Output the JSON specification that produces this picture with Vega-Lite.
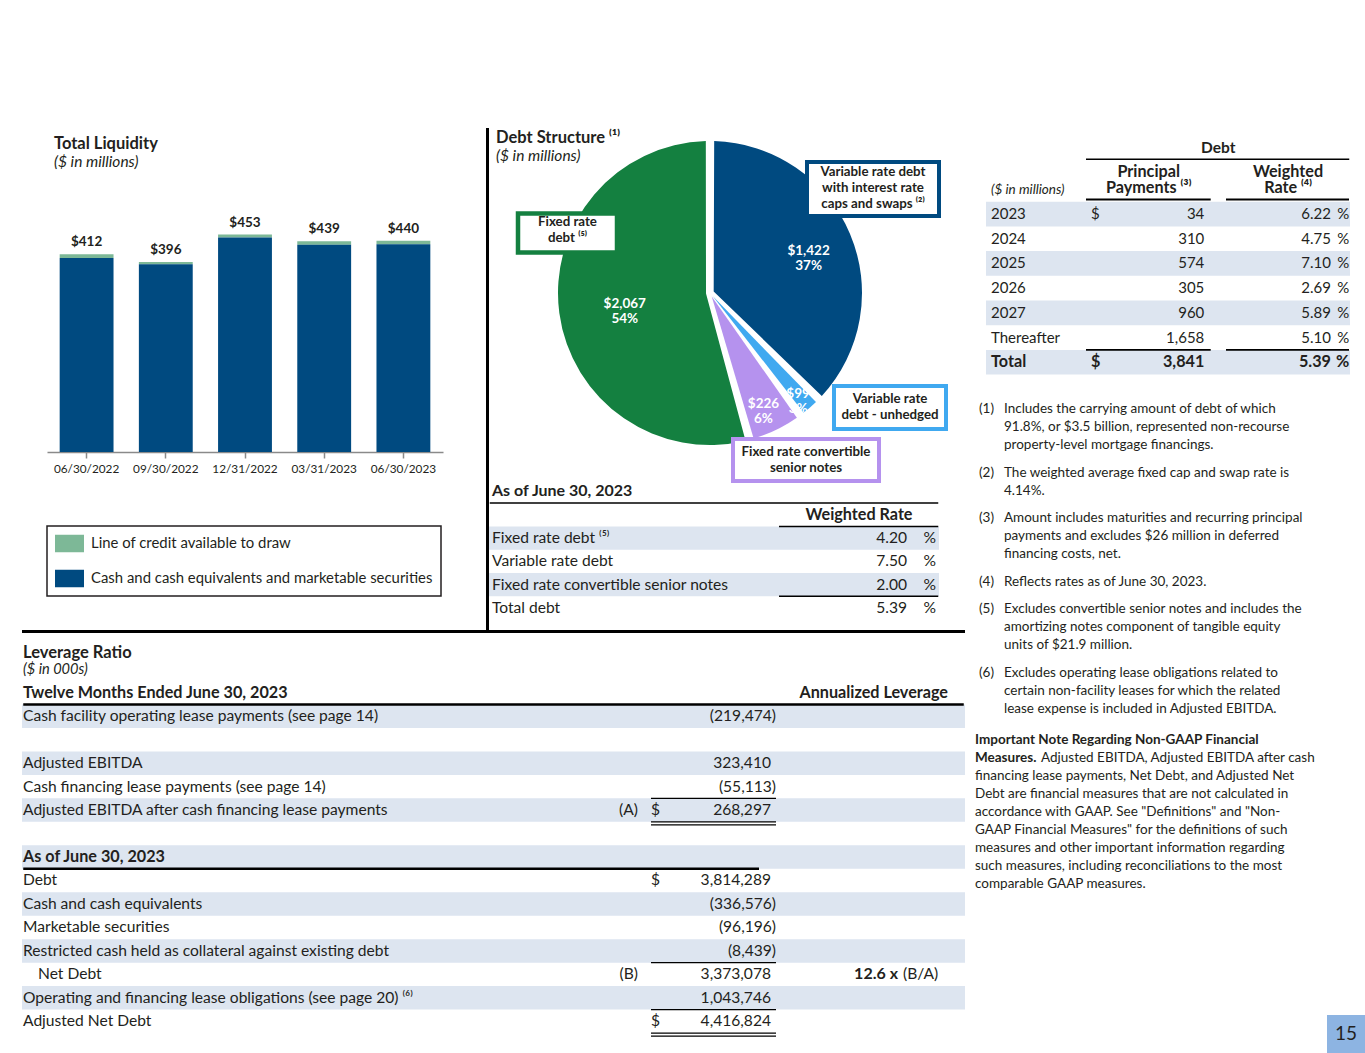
{
  "$schema": "https://vega.github.io/schema/vega-lite/v6.json",
  "background": "white",
  "padding": {"left": 22, "top": 128, "right": 0, "bottom": 0},
  "config": {
    "view": {"stroke": null},
    "font": "Lato",
    "text": {"font": "Lato", "fontSize": 15, "color": "#231F20"},
    "title": {"font": "Lato", "subtitleFont": "Lato", "color": "#231F20", "subtitleColor": "#231F20", "anchor": "start", "frame": "group", "fontWeight": "bold", "subtitleFontStyle": "italic"},
    "rule": {"color": "#000000"},
    "concat": {"spacing": 0}
  },
  "datasets": {
    "liq": [
      {"date": "06/30/2022", "category": "Line of credit available to draw", "value": 8},
      {"date": "06/30/2022", "category": "Cash and cash equivalents and marketable securities", "value": 404},
      {"date": "09/30/2022", "category": "Line of credit available to draw", "value": 5},
      {"date": "09/30/2022", "category": "Cash and cash equivalents and marketable securities", "value": 391},
      {"date": "12/31/2022", "category": "Line of credit available to draw", "value": 6},
      {"date": "12/31/2022", "category": "Cash and cash equivalents and marketable securities", "value": 447},
      {"date": "03/31/2023", "category": "Line of credit available to draw", "value": 7},
      {"date": "03/31/2023", "category": "Cash and cash equivalents and marketable securities", "value": 432},
      {"date": "06/30/2023", "category": "Line of credit available to draw", "value": 7},
      {"date": "06/30/2023", "category": "Cash and cash equivalents and marketable securities", "value": 433}
    ],
    "debt": [
      {"seq": 1, "cat": "Variable rate debt with interest rate caps and swaps", "value": 1422, "lines": "Variable rate debt\nwith interest rate\ncaps and swaps ⁽²⁾"},
      {"seq": 2, "cat": "Variable rate debt - unhedged", "value": 99, "lines": "Variable rate\ndebt - unhedged"},
      {"seq": 3, "cat": "Fixed rate convertible senior notes", "value": 226, "lines": "Fixed rate convertible\nsenior notes"},
      {"seq": 4, "cat": "Fixed rate debt", "value": 2067, "lines": "Fixed rate\ndebt ⁽⁵⁾"}
    ],
    "wrate": [
      {"row": 1, "label": "Fixed rate debt ⁽⁵⁾", "rate": 4.2},
      {"row": 2, "label": "Variable rate debt", "rate": 7.5},
      {"row": 3, "label": "Fixed rate convertible senior notes", "rate": 2.0},
      {"row": 4, "label": "Total debt", "rate": 5.39}
    ],
    "sched": [
      {"row": 1, "year": "2023", "cur": "$", "amount": 34, "rate": 6.22},
      {"row": 2, "year": "2024", "amount": 310, "rate": 4.75},
      {"row": 3, "year": "2025", "amount": 574, "rate": 7.10},
      {"row": 4, "year": "2026", "amount": 305, "rate": 2.69},
      {"row": 5, "year": "2027", "amount": 960, "rate": 5.89},
      {"row": 6, "year": "Thereafter", "amount": 1658, "rate": 5.10},
      {"row": 7, "year": "Total", "cur": "$", "amount": 3841, "rate": 5.39}
    ],
    "notes": [
      {"para": 1, "ln": 1, "n": "(1)", "t": "Includes the carrying amount of debt of which"},
      {"para": 1, "ln": 2, "t": "91.8%, or $3.5 billion, represented non-recourse"},
      {"para": 1, "ln": 3, "t": "property-level mortgage financings."},
      {"para": 2, "ln": 1, "n": "(2)", "t": "The weighted average fixed cap and swap rate is"},
      {"para": 2, "ln": 2, "t": "4.14%."},
      {"para": 3, "ln": 1, "n": "(3)", "t": "Amount includes maturities and recurring principal"},
      {"para": 3, "ln": 2, "t": "payments and excludes $26 million in deferred"},
      {"para": 3, "ln": 3, "t": "financing costs, net."},
      {"para": 4, "ln": 1, "n": "(4)", "t": "Reflects rates as of June 30, 2023."},
      {"para": 5, "ln": 1, "n": "(5)", "t": "Excludes convertible senior notes and includes the"},
      {"para": 5, "ln": 2, "t": "amortizing notes component of tangible equity"},
      {"para": 5, "ln": 3, "t": "units of $21.9 million."},
      {"para": 6, "ln": 1, "n": "(6)", "t": "Excludes operating lease obligations related to"},
      {"para": 6, "ln": 2, "t": "certain non-facility leases for which the related"},
      {"para": 6, "ln": 3, "t": "lease expense is included in Adjusted EBITDA."}
    ],
    "imp": [
      {"ln": 1, "b": "Important Note Regarding Non-GAAP Financial"},
      {"ln": 2, "b": "Measures.", "t": "Adjusted EBITDA, Adjusted EBITDA after cash"},
      {"ln": 3, "t": "financing lease payments, Net Debt, and Adjusted Net"},
      {"ln": 4, "t": "Debt are financial measures that are not calculated in"},
      {"ln": 5, "t": "accordance with GAAP. See \"Definitions\" and \"Non-"},
      {"ln": 6, "t": "GAAP Financial Measures\" for the definitions of such"},
      {"ln": 7, "t": "measures and other important information regarding"},
      {"ln": 8, "t": "such measures, including reconciliations to the most"},
      {"ln": 9, "t": "comparable GAAP measures."}
    ],
    "lev": [
      {"row": 1, "label": "Cash facility operating lease payments (see page 14)", "amount": -219474},
      {"row": 2, "label": ""},
      {"row": 3, "label": "Adjusted EBITDA", "amount": 323410},
      {"row": 4, "label": "Cash financing lease payments (see page 14)", "amount": -55113},
      {"row": 5, "label": "Adjusted EBITDA after cash financing lease payments", "ref": "(A)", "cur": "$", "amount": 268297},
      {"row": 6, "label": ""},
      {"row": 7, "label": "As of June 30, 2023"},
      {"row": 8, "label": "Debt", "cur": "$", "amount": 3814289},
      {"row": 9, "label": "Cash and cash equivalents", "amount": -336576},
      {"row": 10, "label": "Marketable securities", "amount": -96196},
      {"row": 11, "label": "Restricted cash held as collateral against existing debt", "amount": -8439},
      {"row": 12, "label": "Net Debt", "ref": "(B)", "amount": 3373078, "lev": 12.6, "levref": "(B/A)"},
      {"row": 13, "label": "Operating and financing lease obligations (see page 20) ⁽⁶⁾", "amount": 1043746},
      {"row": 14, "label": "Adjusted Net Debt", "cur": "$", "amount": 4416824}
    ]
  },
  "spacing": 10,
  "resolve": {"scale": {"color": "independent"}},
  "hconcat": [
    {
      "spacing": 0,
      "resolve": {"scale": {"color": "independent"}},
      "vconcat": [
        {
          "spacing": 0,
          "resolve": {"scale": {"color": "independent"}},
          "hconcat": [
            {"width": 24, "height": 1, "data": {"values": []}, "mark": "point"},
            {
              "spacing": 0,
              "vconcat": [
                {
                  "width": 396,
                  "height": 324,
                  "title": {"text": "Total Liquidity", "subtitle": "($ in millions)", "dx": 7, "offset": -42, "fontSize": 16.5, "subtitleFontSize": 15.5, "subtitlePadding": 2},
                  "data": {"name": "liq"},
                  "layer": [
                    {
                      "mark": {"type": "bar"},
                      "encoding": {
                        "x": {"field": "date", "type": "nominal", "scale": {"domain": ["06/30/2022", "09/30/2022", "12/31/2022", "03/31/2023", "06/30/2023"], "paddingInner": 0.32, "paddingOuter": 0.16},
                          "axis": {"title": null, "labelAngle": 0, "domainColor": "#8a8a8a", "domainWidth": 1.5, "tickColor": "#8a8a8a", "tickWidth": 1.5, "tickSize": 6, "labelPadding": 5, "labelFontSize": 11.8, "labelColor": "#231F20", "labelFont": "Lato", "grid": false}},
                        "y": {"field": "value", "type": "quantitative", "stack": "zero", "scale": {"domain": [0, 675], "nice": false}, "axis": null},
                        "color": {"field": "category", "type": "nominal", "legend": null,
                          "scale": {"domain": ["Line of credit available to draw", "Cash and cash equivalents and marketable securities"], "range": ["#7DB897", "#004A80"]}},
                        "order": {"field": "category", "sort": "ascending"}
                      }
                    },
                    {
                      "transform": [{"aggregate": [{"op": "sum", "field": "value", "as": "total"}], "groupby": ["date"]}],
                      "mark": {"type": "text", "baseline": "alphabetic", "dy": -8, "fontWeight": "bold", "fontSize": 13.5},
                      "encoding": {
                        "x": {"field": "date", "type": "nominal"},
                        "y": {"field": "total", "type": "quantitative"},
                        "text": {"field": "total", "type": "quantitative", "format": "$,.0f"}
                      }
                    }
                  ]
                },
                {"width": 1, "height": 50, "data": {"values": []}, "mark": "point"},
                {
                  "width": 394,
                  "height": 70,
                  "view": {"stroke": "#231F20", "strokeWidth": 1.5},
                  "data": {"name": "liq"},
                  "transform": [{"aggregate": [{"op": "count", "as": "n"}], "groupby": ["category"]}],
                  "layer": [
                    {
                      "mark": {"type": "rect"},
                      "encoding": {
                        "y": {"field": "category", "type": "nominal", "scale": {"type": "band", "domain": ["Line of credit available to draw", "Cash and cash equivalents and marketable securities"], "paddingInner": 0.5, "paddingOuter": 0.25}, "axis": null},
                        "x": {"datum": 8, "type": "quantitative", "scale": {"domain": [0, 394], "nice": false, "zero": false}, "axis": null},
                        "x2": {"datum": 37},
                        "color": {"field": "category", "type": "nominal", "legend": null}
                      }
                    },
                    {
                      "mark": {"type": "text", "align": "left", "fontSize": 14.9},
                      "encoding": {
                        "y": {"field": "category", "type": "nominal"},
                        "x": {"datum": 44, "type": "quantitative"},
                        "text": {"field": "category"}
                      }
                    }
                  ]
                }
              ]
            },
            {"width": 43, "height": 1, "data": {"values": []}, "mark": "point"},
            {"width": 3, "height": 502, "view": {"fill": "#000000"}, "data": {"values": []}, "mark": "point"},
            {
              "spacing": 0,
              "vconcat": [
                {
                  "width": 442,
                  "height": 355,
                  "title": {"text": "Debt Structure ⁽¹⁾", "subtitle": "($ in millions)", "dx": 7, "offset": -36, "fontSize": 16.5, "subtitleFontSize": 15.5, "subtitlePadding": 2},
                  "data": {"name": "debt"},
                  "layer": [
                    {
                      "mark": {"type": "arc", "outerRadius": 152, "innerRadius": 4, "padAngle": 0.055},
                      "encoding": {
                        "x": {"datum": 221, "type": "quantitative", "scale": {"domain": [0, 442], "nice": false, "zero": false}, "axis": null},
                        "y": {"datum": 165, "type": "quantitative", "scale": {"domain": [0, 355], "reverse": true, "nice": false, "zero": false}, "axis": null},
                        "theta": {"field": "value", "type": "quantitative", "stack": true},
                        "order": {"field": "seq", "type": "quantitative"},
                        "color": {"field": "cat", "type": "nominal", "legend": null,
                          "scale": {"domain": ["Variable rate debt with interest rate caps and swaps", "Variable rate debt - unhedged", "Fixed rate convertible senior notes", "Fixed rate debt"], "range": ["#004A80", "#40A9F0", "#B592EE", "#148040"]}}
                      }
                    },
                    {
                      "transform": [
                        {"joinaggregate": [{"op": "sum", "field": "value", "as": "total"}]},
                        {"calculate": "'$' + format(datum.value, ',') + '\\n' + format(datum.value / datum.total, '.0%')", "as": "lbl"}
                      ],
                      "mark": {"type": "text", "radius": {"expr": "datum.seq == 1 ? 107 : datum.seq == 4 ? 86 : datum.seq == 3 ? 123 : 134"}, "color": "white", "fontWeight": "bold", "fontSize": 13.5, "lineBreak": "\n", "lineHeight": 15},
                      "encoding": {
                        "x": {"datum": 221, "type": "quantitative"},
                        "y": {"datum": 165, "type": "quantitative"},
                        "theta": {"field": "value", "type": "quantitative", "stack": true},
                        "order": {"field": "seq", "type": "quantitative"},
                        "text": {"field": "lbl", "type": "nominal"}
                      }
                    },
                    {
                      "transform": [{"filter": "datum.seq == 1"}],
                      "mark": {"type": "rect", "fill": "white", "stroke": "#004A80", "strokeWidth": 4},
                      "encoding": {"x": {"datum": 318, "type": "quantitative"}, "x2": {"datum": 450}, "y": {"datum": 34, "type": "quantitative"}, "y2": {"datum": 88}}
                    },
                    {
                      "transform": [{"filter": "datum.seq == 4"}],
                      "mark": {"type": "rect", "fill": "white", "stroke": "#148040", "strokeWidth": 4.5},
                      "encoding": {"x": {"datum": 29, "type": "quantitative"}, "x2": {"datum": 128}, "y": {"datum": 85.5, "type": "quantitative"}, "y2": {"datum": 124.5}}
                    },
                    {
                      "transform": [{"filter": "datum.seq == 2"}],
                      "mark": {"type": "rect", "fill": "white", "stroke": "#40A9F0", "strokeWidth": 4},
                      "encoding": {"x": {"datum": 345, "type": "quantitative"}, "x2": {"datum": 457}, "y": {"datum": 258, "type": "quantitative"}, "y2": {"datum": 301}}
                    },
                    {
                      "transform": [{"filter": "datum.seq == 3"}],
                      "mark": {"type": "rect", "fill": "white", "stroke": "#B592EE", "strokeWidth": 4},
                      "encoding": {"x": {"datum": 244, "type": "quantitative"}, "x2": {"datum": 390}, "y": {"datum": 311, "type": "quantitative"}, "y2": {"datum": 353}}
                    },
                    {
                      "transform": [{"filter": "datum.seq == 1"}],
                      "mark": {"type": "text", "fontWeight": "bold", "fontSize": 13.3, "lineBreak": "\n", "lineHeight": 16},
                      "encoding": {"x": {"datum": 384, "type": "quantitative"}, "y": {"datum": 44, "type": "quantitative"}, "text": {"field": "lines"}}
                    },
                    {
                      "transform": [{"filter": "datum.seq == 4"}],
                      "mark": {"type": "text", "fontWeight": "bold", "fontSize": 13.3, "lineBreak": "\n", "lineHeight": 16},
                      "encoding": {"x": {"datum": 78.5, "type": "quantitative"}, "y": {"datum": 94, "type": "quantitative"}, "text": {"field": "lines"}}
                    },
                    {
                      "transform": [{"filter": "datum.seq == 2"}],
                      "mark": {"type": "text", "fontWeight": "bold", "fontSize": 13.3, "lineBreak": "\n", "lineHeight": 15.5},
                      "encoding": {"x": {"datum": 401, "type": "quantitative"}, "y": {"datum": 271, "type": "quantitative"}, "text": {"field": "lines"}}
                    },
                    {
                      "transform": [{"filter": "datum.seq == 3"}],
                      "mark": {"type": "text", "fontWeight": "bold", "fontSize": 13.3, "lineBreak": "\n", "lineHeight": 16},
                      "encoding": {"x": {"datum": 317, "type": "quantitative"}, "y": {"datum": 324, "type": "quantitative"}, "text": {"field": "lines"}}
                    }
                  ]
                },
                {
                  "width": 450,
                  "height": 137,
                  "data": {"name": "wrate"},
                  "layer": [
                    {
                      "transform": [{"filter": "datum.row % 2 == 1"}],
                      "mark": {"type": "rect", "fill": "#DDE5F0"},
                      "encoding": {
                        "y": {"field": "row", "type": "ordinal", "scale": {"type": "band", "domain": [-1, 0, 1, 2, 3, 4], "range": [-3.2, 136.6], "paddingInner": 0, "paddingOuter": 0}, "axis": null},
                        "x": {"datum": 0, "type": "quantitative", "scale": {"domain": [0, 450], "nice": false, "zero": false}, "axis": null},
                        "x2": {"datum": 450}
                      }
                    },
                    {
                      "mark": {"type": "text", "align": "left", "fontSize": 15.6},
                      "encoding": {"y": {"field": "row", "type": "ordinal"}, "x": {"datum": 3, "type": "quantitative"}, "text": {"field": "label"}}
                    },
                    {
                      "mark": {"type": "text", "align": "right", "fontSize": 15.6},
                      "encoding": {"y": {"field": "row", "type": "ordinal"}, "x": {"datum": 418, "type": "quantitative"}, "text": {"field": "rate", "type": "quantitative", "format": ".2f"}}
                    },
                    {
                      "mark": {"type": "text", "align": "right", "fontSize": 15.6},
                      "encoding": {"y": {"field": "row", "type": "ordinal"}, "x": {"datum": 447, "type": "quantitative"}, "text": {"value": "%"}}
                    },
                    {
                      "data": {"values": [{"h": "As of June 30, 2023"}]},
                      "mark": {"type": "text", "align": "left", "fontWeight": "bold", "fontSize": 16},
                      "encoding": {"y": {"datum": -1, "type": "ordinal"}, "x": {"datum": 3, "type": "quantitative"}, "text": {"field": "h"}}
                    },
                    {
                      "data": {"values": [{"h": "Weighted Rate"}]},
                      "mark": {"type": "text", "align": "center", "fontWeight": "bold", "fontSize": 16.2},
                      "encoding": {"y": {"datum": 0, "type": "ordinal"}, "x": {"datum": 370, "type": "quantitative"}, "text": {"field": "h"}}
                    },
                    {
                      "data": {"values": [{}]},
                      "mark": {"type": "rule", "strokeWidth": 1.5},
                      "encoding": {"y": {"datum": 0, "type": "ordinal", "bandPosition": 0}, "x": {"datum": 0.75, "type": "quantitative"}, "x2": {"datum": 449.25}}
                    },
                    {
                      "data": {"values": [{}]},
                      "mark": {"type": "rule", "strokeWidth": 1.5},
                      "encoding": {"y": {"datum": 0, "type": "ordinal", "bandPosition": 1}, "x": {"datum": 290, "type": "quantitative"}, "x2": {"datum": 449.25}}
                    },
                    {
                      "data": {"values": [{}]},
                      "mark": {"type": "rule", "strokeWidth": 1.5},
                      "encoding": {"y": {"datum": 4, "type": "ordinal", "bandPosition": 0}, "x": {"datum": 290, "type": "quantitative"}, "x2": {"datum": 449.25}}
                    }
                  ]
                }
              ]
            }
          ]
        },
        {"width": 943, "height": 3, "view": {"fill": "#000000"}, "data": {"values": []}, "mark": "point"},
        {
          "width": 943,
          "height": 400,
          "data": {"name": "lev"},
          "layer": [
            {
              "transform": [{"filter": "datum.row % 2 == 1"}],
              "mark": {"type": "rect", "fill": "#DDE5F0"},
              "encoding": {
                "y": {"field": "row", "type": "ordinal", "scale": {"type": "band", "domain": [-1, 0, 1, 2, 3, 4, 5, 6, 7, 8, 9, 10, 11, 12, 13, 14], "range": [24.53, 400.05], "paddingInner": 0, "paddingOuter": 0}, "axis": null},
                "x": {"datum": 0, "type": "quantitative", "scale": {"domain": [0, 943], "nice": false, "zero": false}, "axis": null},
                "x2": {"datum": 943}
              }
            },
            {
              "mark": {"type": "text", "align": "left", "fontWeight": {"expr": "datum.row == 7 ? 'bold' : 'normal'"}, "fontSize": {"expr": "datum.row == 7 ? 16.2 : 15.6"}, "dx": {"expr": "datum.label == 'Net Debt' ? 15 : 0"}},
              "encoding": {"y": {"field": "row", "type": "ordinal"}, "x": {"datum": 1, "type": "quantitative"}, "text": {"field": "label"}}
            },
            {
              "transform": [{"filter": "isValid(datum.ref)"}],
              "mark": {"type": "text", "align": "right", "fontSize": 15.6},
              "encoding": {"y": {"field": "row", "type": "ordinal"}, "x": {"datum": 616, "type": "quantitative"}, "text": {"field": "ref"}}
            },
            {
              "transform": [{"filter": "isValid(datum.cur)"}],
              "mark": {"type": "text", "align": "left", "fontSize": 15.6},
              "encoding": {"y": {"field": "row", "type": "ordinal"}, "x": {"datum": 629, "type": "quantitative"}, "text": {"field": "cur"}}
            },
            {
              "transform": [{"filter": "isValid(datum.amount) && datum.amount >= 0"}],
              "mark": {"type": "text", "align": "right", "fontSize": 15.6},
              "encoding": {"y": {"field": "row", "type": "ordinal"}, "x": {"datum": 749, "type": "quantitative"}, "text": {"field": "amount", "type": "quantitative", "format": ","}}
            },
            {
              "transform": [{"filter": "isValid(datum.amount) && datum.amount < 0"}],
              "mark": {"type": "text", "align": "right", "fontSize": 15.6},
              "encoding": {"y": {"field": "row", "type": "ordinal"}, "x": {"datum": 754, "type": "quantitative"}, "text": {"field": "amount", "type": "quantitative", "format": "(,"}}
            },
            {
              "transform": [{"filter": "isValid(datum.lev)"}, {"calculate": "format(datum.lev, '.1f') + ' x'", "as": "levtxt"}],
              "mark": {"type": "text", "align": "right", "fontWeight": "bold", "fontSize": 16},
              "encoding": {"y": {"field": "row", "type": "ordinal"}, "x": {"datum": 876, "type": "quantitative"}, "text": {"field": "levtxt"}}
            },
            {
              "transform": [{"filter": "isValid(datum.levref)"}],
              "mark": {"type": "text", "align": "left", "fontSize": 15.6},
              "encoding": {"y": {"field": "row", "type": "ordinal"}, "x": {"datum": 881, "type": "quantitative"}, "text": {"field": "levref"}}
            },
            {
              "data": {"values": [{"h": "Leverage Ratio"}]},
              "mark": {"type": "text", "align": "left", "fontWeight": "bold", "fontSize": 16.5, "dy": -16.5},
              "encoding": {"y": {"datum": -1, "type": "ordinal"}, "x": {"datum": 1, "type": "quantitative"}, "text": {"field": "h"}}
            },
            {
              "data": {"values": [{"h": "($ in 000s)"}]},
              "mark": {"type": "text", "align": "left", "fontStyle": "italic", "fontSize": 14.6, "dy": 0.7},
              "encoding": {"y": {"datum": -1, "type": "ordinal"}, "x": {"datum": 1, "type": "quantitative"}, "text": {"field": "h"}}
            },
            {
              "data": {"values": [{"h": "Twelve Months Ended June 30, 2023"}]},
              "mark": {"type": "text", "align": "left", "fontWeight": "bold", "fontSize": 16.2},
              "encoding": {"y": {"datum": 0, "type": "ordinal"}, "x": {"datum": 1, "type": "quantitative"}, "text": {"field": "h"}}
            },
            {
              "data": {"values": [{"h": "Annualized Leverage"}]},
              "mark": {"type": "text", "align": "right", "fontWeight": "bold", "fontSize": 16.2},
              "encoding": {"y": {"datum": 0, "type": "ordinal"}, "x": {"datum": 926, "type": "quantitative"}, "text": {"field": "h"}}
            },
            {
              "data": {"values": [{}]},
              "mark": {"type": "rule", "strokeWidth": 2.5},
              "encoding": {"y": {"datum": 0, "type": "ordinal", "bandPosition": 1}, "x": {"datum": 1.25, "type": "quantitative"}, "x2": {"datum": 941.75}}
            },
            {
              "data": {"values": [{}]},
              "mark": {"type": "rule", "strokeWidth": 2.5},
              "encoding": {"y": {"datum": 7, "type": "ordinal", "bandPosition": 1}, "x": {"datum": 1.25, "type": "quantitative"}, "x2": {"datum": 737}}
            },
            {
              "data": {"values": [{}]},
              "mark": {"type": "rule", "strokeWidth": 1.3},
              "encoding": {"y": {"datum": 5, "type": "ordinal", "bandPosition": 0}, "x": {"datum": 629, "type": "quantitative"}, "x2": {"datum": 754}}
            },
            {
              "data": {"values": [{}]},
              "mark": {"type": "rule", "strokeWidth": 1.3},
              "encoding": {"y": {"datum": 5, "type": "ordinal", "bandPosition": 1}, "x": {"datum": 629, "type": "quantitative"}, "x2": {"datum": 754}}
            },
            {
              "data": {"values": [{}]},
              "mark": {"type": "rule", "strokeWidth": 1.3},
              "encoding": {"y": {"datum": 6, "type": "ordinal", "bandPosition": 0.13}, "x": {"datum": 629, "type": "quantitative"}, "x2": {"datum": 754}}
            },
            {
              "data": {"values": [{}]},
              "mark": {"type": "rule", "strokeWidth": 1.3},
              "encoding": {"y": {"datum": 12, "type": "ordinal", "bandPosition": 0}, "x": {"datum": 629, "type": "quantitative"}, "x2": {"datum": 754}}
            },
            {
              "data": {"values": [{}]},
              "mark": {"type": "rule", "strokeWidth": 1.3},
              "encoding": {"y": {"datum": 14, "type": "ordinal", "bandPosition": 0}, "x": {"datum": 629, "type": "quantitative"}, "x2": {"datum": 754}}
            },
            {
              "data": {"values": [{}]},
              "mark": {"type": "rule", "strokeWidth": 1.3},
              "encoding": {"y": {"datum": 14, "type": "ordinal", "bandPosition": 1}, "x": {"datum": 629, "type": "quantitative"}, "x2": {"datum": 754}}
            },
            {
              "data": {"values": [{}]},
              "mark": {"type": "rule", "strokeWidth": 1.3},
              "encoding": {"y": {"datum": 14, "type": "ordinal", "bandPosition": 1.13}, "x": {"datum": 629, "type": "quantitative"}, "x2": {"datum": 754}}
            }
          ]
        }
      ]
    },
    {
      "spacing": 0,
      "vconcat": [
        {
          "width": 375,
          "height": 247,
          "data": {"name": "sched"},
          "layer": [
            {
              "transform": [{"filter": "datum.row % 2 == 1"}],
              "mark": {"type": "rect", "fill": "#DDE5F0"},
              "encoding": {
                "y": {"field": "row", "type": "ordinal", "scale": {"type": "band", "domain": [-1, 0, 1, 2, 3, 4, 5, 6, 7], "range": [24.3, 246.6], "paddingInner": 0, "paddingOuter": 0}, "axis": null},
                "x": {"datum": 11, "type": "quantitative", "scale": {"domain": [0, 375], "nice": false, "zero": false}, "axis": null},
                "x2": {"datum": 375}
              }
            },
            {
              "mark": {"type": "text", "align": "left", "fontWeight": {"expr": "datum.row == 7 ? 'bold' : 'normal'"}, "fontSize": {"expr": "datum.row == 7 ? 16.2 : 15"}},
              "encoding": {"y": {"field": "row", "type": "ordinal"}, "x": {"datum": 16, "type": "quantitative"}, "text": {"field": "year"}}
            },
            {
              "transform": [{"filter": "isValid(datum.cur)"}],
              "mark": {"type": "text", "align": "left", "fontWeight": {"expr": "datum.row == 7 ? 'bold' : 'normal'"}, "fontSize": {"expr": "datum.row == 7 ? 16.2 : 15"}},
              "encoding": {"y": {"field": "row", "type": "ordinal"}, "x": {"datum": 116, "type": "quantitative"}, "text": {"field": "cur"}}
            },
            {
              "mark": {"type": "text", "align": "right", "fontWeight": {"expr": "datum.row == 7 ? 'bold' : 'normal'"}, "fontSize": {"expr": "datum.row == 7 ? 16.2 : 15"}},
              "encoding": {"y": {"field": "row", "type": "ordinal"}, "x": {"datum": 229.3, "type": "quantitative"}, "text": {"field": "amount", "type": "quantitative", "format": ","}}
            },
            {
              "mark": {"type": "text", "align": "right", "fontWeight": {"expr": "datum.row == 7 ? 'bold' : 'normal'"}, "fontSize": {"expr": "datum.row == 7 ? 16.2 : 15"}},
              "encoding": {"y": {"field": "row", "type": "ordinal"}, "x": {"datum": 356, "type": "quantitative"}, "text": {"field": "rate", "type": "quantitative", "format": ".2f"}}
            },
            {
              "mark": {"type": "text", "align": "right", "fontWeight": {"expr": "datum.row == 7 ? 'bold' : 'normal'"}, "fontSize": {"expr": "datum.row == 7 ? 16.2 : 15"}},
              "encoding": {"y": {"field": "row", "type": "ordinal"}, "x": {"datum": 374.3, "type": "quantitative"}, "text": {"value": "%"}}
            },
            {
              "data": {"values": [{"h": "Debt"}]},
              "mark": {"type": "text", "align": "center", "fontWeight": "bold", "fontSize": 15.5, "dy": -16.35},
              "encoding": {"y": {"datum": -1, "type": "ordinal"}, "x": {"datum": 243.3, "type": "quantitative"}, "text": {"field": "h"}}
            },
            {
              "data": {"values": [{"h": "Principal\nPayments ⁽³⁾"}]},
              "mark": {"type": "text", "align": "center", "fontWeight": "bold", "fontSize": 16.2, "dy": -17.65, "lineBreak": "\n", "lineHeight": 16.6},
              "encoding": {"y": {"datum": 0, "type": "ordinal"}, "x": {"datum": 173.7, "type": "quantitative"}, "text": {"field": "h"}}
            },
            {
              "data": {"values": [{"h": "Weighted\nRate ⁽⁴⁾"}]},
              "mark": {"type": "text", "align": "center", "fontWeight": "bold", "fontSize": 16.2, "dy": -17.65, "lineBreak": "\n", "lineHeight": 16.6},
              "encoding": {"y": {"datum": 0, "type": "ordinal"}, "x": {"datum": 313, "type": "quantitative"}, "text": {"field": "h"}}
            },
            {
              "data": {"values": [{"h": "($ in millions)"}]},
              "mark": {"type": "text", "align": "left", "fontStyle": "italic", "fontSize": 13.5, "dy": 0.65},
              "encoding": {"y": {"datum": 0, "type": "ordinal"}, "x": {"datum": 16, "type": "quantitative"}, "text": {"field": "h"}}
            },
            {
              "data": {"values": [{}]},
              "mark": {"type": "rule", "strokeWidth": 1.5},
              "encoding": {"y": {"datum": -1, "type": "ordinal", "bandPosition": 0.283}, "x": {"datum": 111, "type": "quantitative"}, "x2": {"datum": 374.25}}
            },
            {
              "data": {"values": [{}]},
              "mark": {"type": "rule", "strokeWidth": 2},
              "encoding": {"y": {"datum": 0, "type": "ordinal", "bandPosition": 0.91}, "x": {"datum": 111, "type": "quantitative"}, "x2": {"datum": 235.7}}
            },
            {
              "data": {"values": [{}]},
              "mark": {"type": "rule", "strokeWidth": 2},
              "encoding": {"y": {"datum": 0, "type": "ordinal", "bandPosition": 0.91}, "x": {"datum": 251, "type": "quantitative"}, "x2": {"datum": 374}}
            },
            {
              "data": {"values": [{}]},
              "mark": {"type": "rule", "strokeWidth": 1.8},
              "encoding": {"y": {"datum": 7, "type": "ordinal", "bandPosition": 0}, "x": {"datum": 111, "type": "quantitative"}, "x2": {"datum": 235.7}}
            },
            {
              "data": {"values": [{}]},
              "mark": {"type": "rule", "strokeWidth": 1.8},
              "encoding": {"y": {"datum": 7, "type": "ordinal", "bandPosition": 0}, "x": {"datum": 251, "type": "quantitative"}, "x2": {"datum": 374}}
            }
          ]
        },
        {"width": 1, "height": 25, "data": {"values": []}, "mark": "point"},
        {
          "spacing": 9.5,
          "vconcat": [
            {"width": 375, "height": 54, "data": {"name": "notes"}, "transform": [{"filter": "datum.para == 1"}],
             "layer": [
               {"transform": [{"filter": "isValid(datum.n)"}], "mark": {"type": "text", "align": "left", "fontSize": 13.5},
                "encoding": {"x": {"datum": 4, "type": "quantitative", "scale": {"domain": [0, 375], "nice": false, "zero": false}, "axis": null}, "y": {"field": "ln", "type": "ordinal", "scale": {"type": "band", "paddingInner": 0, "paddingOuter": 0}, "axis": null}, "text": {"field": "n"}}},
               {"mark": {"type": "text", "align": "left", "fontSize": 13.5},
                "encoding": {"x": {"datum": 29, "type": "quantitative"}, "y": {"field": "ln", "type": "ordinal"}, "text": {"field": "t"}}}
             ]},
            {"width": 375, "height": 36, "data": {"name": "notes"}, "transform": [{"filter": "datum.para == 2"}],
             "layer": [
               {"transform": [{"filter": "isValid(datum.n)"}], "mark": {"type": "text", "align": "left", "fontSize": 13.5},
                "encoding": {"x": {"datum": 4, "type": "quantitative", "scale": {"domain": [0, 375], "nice": false, "zero": false}, "axis": null}, "y": {"field": "ln", "type": "ordinal", "scale": {"type": "band", "paddingInner": 0, "paddingOuter": 0}, "axis": null}, "text": {"field": "n"}}},
               {"mark": {"type": "text", "align": "left", "fontSize": 13.5},
                "encoding": {"x": {"datum": 29, "type": "quantitative"}, "y": {"field": "ln", "type": "ordinal"}, "text": {"field": "t"}}}
             ]},
            {"width": 375, "height": 54, "data": {"name": "notes"}, "transform": [{"filter": "datum.para == 3"}],
             "layer": [
               {"transform": [{"filter": "isValid(datum.n)"}], "mark": {"type": "text", "align": "left", "fontSize": 13.5},
                "encoding": {"x": {"datum": 4, "type": "quantitative", "scale": {"domain": [0, 375], "nice": false, "zero": false}, "axis": null}, "y": {"field": "ln", "type": "ordinal", "scale": {"type": "band", "paddingInner": 0, "paddingOuter": 0}, "axis": null}, "text": {"field": "n"}}},
               {"mark": {"type": "text", "align": "left", "fontSize": 13.5},
                "encoding": {"x": {"datum": 29, "type": "quantitative"}, "y": {"field": "ln", "type": "ordinal"}, "text": {"field": "t"}}}
             ]},
            {"width": 375, "height": 18, "data": {"name": "notes"}, "transform": [{"filter": "datum.para == 4"}],
             "layer": [
               {"transform": [{"filter": "isValid(datum.n)"}], "mark": {"type": "text", "align": "left", "fontSize": 13.5},
                "encoding": {"x": {"datum": 4, "type": "quantitative", "scale": {"domain": [0, 375], "nice": false, "zero": false}, "axis": null}, "y": {"field": "ln", "type": "ordinal", "scale": {"type": "band", "paddingInner": 0, "paddingOuter": 0}, "axis": null}, "text": {"field": "n"}}},
               {"mark": {"type": "text", "align": "left", "fontSize": 13.5},
                "encoding": {"x": {"datum": 29, "type": "quantitative"}, "y": {"field": "ln", "type": "ordinal"}, "text": {"field": "t"}}}
             ]},
            {"width": 375, "height": 54, "data": {"name": "notes"}, "transform": [{"filter": "datum.para == 5"}],
             "layer": [
               {"transform": [{"filter": "isValid(datum.n)"}], "mark": {"type": "text", "align": "left", "fontSize": 13.5},
                "encoding": {"x": {"datum": 4, "type": "quantitative", "scale": {"domain": [0, 375], "nice": false, "zero": false}, "axis": null}, "y": {"field": "ln", "type": "ordinal", "scale": {"type": "band", "paddingInner": 0, "paddingOuter": 0}, "axis": null}, "text": {"field": "n"}}},
               {"mark": {"type": "text", "align": "left", "fontSize": 13.5},
                "encoding": {"x": {"datum": 29, "type": "quantitative"}, "y": {"field": "ln", "type": "ordinal"}, "text": {"field": "t"}}}
             ]},
            {"width": 375, "height": 54, "data": {"name": "notes"}, "transform": [{"filter": "datum.para == 6"}],
             "layer": [
               {"transform": [{"filter": "isValid(datum.n)"}], "mark": {"type": "text", "align": "left", "fontSize": 13.5},
                "encoding": {"x": {"datum": 4, "type": "quantitative", "scale": {"domain": [0, 375], "nice": false, "zero": false}, "axis": null}, "y": {"field": "ln", "type": "ordinal", "scale": {"type": "band", "paddingInner": 0, "paddingOuter": 0}, "axis": null}, "text": {"field": "n"}}},
               {"mark": {"type": "text", "align": "left", "fontSize": 13.5},
                "encoding": {"x": {"datum": 29, "type": "quantitative"}, "y": {"field": "ln", "type": "ordinal"}, "text": {"field": "t"}}}
             ]}
          ]
        },
        {"width": 1, "height": 13, "data": {"values": []}, "mark": "point"},
        {
          "width": 375,
          "height": 162,
          "data": {"name": "imp"},
          "layer": [
            {"transform": [{"filter": "isValid(datum.b)"}], "mark": {"type": "text", "align": "left", "fontSize": 13.5, "fontWeight": "bold"},
             "encoding": {"x": {"datum": 0, "type": "quantitative", "scale": {"domain": [0, 375], "nice": false, "zero": false}, "axis": null}, "y": {"field": "ln", "type": "ordinal", "scale": {"type": "band", "paddingInner": 0, "paddingOuter": 0}, "axis": null}, "text": {"field": "b"}}},
            {"transform": [{"filter": "isValid(datum.t)"}], "mark": {"type": "text", "align": "left", "fontSize": 13.5, "dx": {"expr": "datum.ln == 2 ? 66 : 0"}},
             "encoding": {"x": {"datum": 0, "type": "quantitative"}, "y": {"field": "ln", "type": "ordinal"}, "text": {"field": "t"}}}
          ]
        },
        {"width": 1, "height": 122, "data": {"values": []}, "mark": "point"},
        {
          "spacing": 0,
          "hconcat": [
            {"width": 352, "height": 38, "data": {"values": []}, "mark": "point"},
            {
              "width": 38,
              "height": 38,
              "view": {"fill": "#8DB4E2"},
              "data": {"values": [{"p": "15"}]},
              "mark": {"type": "text", "fontSize": 19, "color": "#231F20"},
              "encoding": {
                "x": {"datum": 0.5, "type": "quantitative", "scale": {"domain": [0, 1], "nice": false, "zero": false}, "axis": null},
                "y": {"datum": 0.5, "type": "quantitative", "scale": {"domain": [0, 1], "nice": false, "zero": false}, "axis": null},
                "text": {"field": "p"}
              }
            }
          ]
        }
      ]
    }
  ]
}
